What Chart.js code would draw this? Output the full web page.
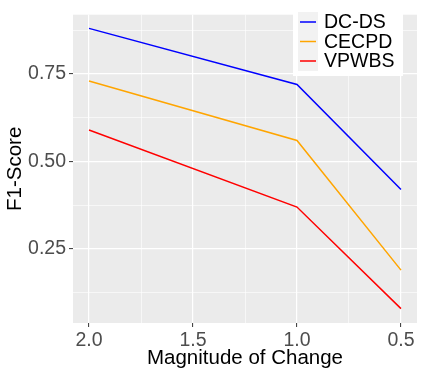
<!DOCTYPE html>
<html>
<head>
<meta charset="utf-8">
<script src="https://cdn.jsdelivr.net/npm/chart.js@4/dist/chart.umd.min.js"></script>
<style>
html, body { margin: 0; padding: 0; background: #fff; }
#wrap { width: 423px; height: 376px; }
</style>
</head>
<body>
<div id="wrap"><canvas id="chart"></canvas></div>
<script>
// values
const magnitudes = [2.0, 1.0, 0.5];
const dcds = [0.88, 0.72, 0.42];
const cecpd = [0.73, 0.56, 0.19];
const vpwbs = [0.59, 0.37, 0.08];
const seriesNames = ['DC-DS', 'CECPD', 'VPWBS'];
const seriesColors = ['#0000ff', '#ffa500', '#ff0000'];
const xMajor = [0.5, 1.0, 1.5, 2.0];
const xMinor = [0.75, 1.25, 1.75];
const yMajor = [0.25, 0.50, 0.75];
const yMinor = [0.125, 0.375, 0.625, 0.875];

const FONT = "'Liberation Sans', Arial, sans-serif";

function toPoints(values) {
    return magnitudes.map((m, i) => ({ x: m, y: values[i] }));
}

function isMajor(list, v) {
    return list.some(m => Math.abs(m - v) < 1e-6);
}

// grey ggplot panel behind the grid
const panelBackground = {
    id: 'panelBackground',
    beforeDraw(chart) {
        const { ctx, chartArea } = chart;
        ctx.save();
        ctx.fillStyle = '#ebebeb';
        ctx.fillRect(chartArea.left, chartArea.top, chartArea.right - chartArea.left, chartArea.bottom - chartArea.top);
        ctx.restore();
    }
};

// legend drawn inside the panel, top right
const insideLegend = {
    id: 'insideLegend',
    afterDraw(chart) {
        const ctx = chart.ctx;
        ctx.save();
        ctx.fillStyle = '#ffffff';
        ctx.fillRect(293, 7, 110, 69);
        chart.data.datasets.forEach((ds, i) => {
            const cy = 22 + i * 19.5;
            ctx.fillStyle = '#f2f2f2';
            ctx.fillRect(298, cy - 10, 20, 20);
            ctx.strokeStyle = ds.borderColor;
            ctx.lineWidth = 1.5;
            ctx.beginPath();
            ctx.moveTo(300, cy);
            ctx.lineTo(316, cy);
            ctx.stroke();
            ctx.fillStyle = '#000000';
            ctx.font = '19.5px ' + FONT;
            ctx.textBaseline = 'middle';
            ctx.textAlign = 'left';
            ctx.fillText(ds.label, 324, cy + 1);
        });
        ctx.restore();
    }
};

const ctx = document.getElementById('chart').getContext('2d');
new Chart(ctx, {
    type: 'line',
    data: {
        datasets: [dcds, cecpd, vpwbs].map((vals, i) => ({
            label: seriesNames[i],
            data: toPoints(vals),
            borderColor: seriesColors[i],
            backgroundColor: seriesColors[i],
            borderWidth: 1.5,
            pointRadius: 0,
            tension: 0
        }))
    },
    options: {
        responsive: true,
        maintainAspectRatio: false,
        animation: false,
        layout: { padding: { top: 6, right: 6, left: 0, bottom: 0 } },
        plugins: {
            legend: { display: false },
            tooltip: { enabled: false }
        },
        scales: {
            x: {
                type: 'linear',
                reverse: true,
                min: 0.423,
                max: 2.077,
                afterBuildTicks(scale) {
                    scale.ticks = xMajor.concat(xMinor).sort().map(v => ({ value: v }));
                },
                afterFit(scale) { scale.height = 53; },
                border: { display: false },
                grid: {
                    color: '#ffffff',
                    lineWidth: c => (c.tick && isMajor(xMajor, c.tick.value)) ? 1.2 : 0.6,
                    tickColor: c => (c.tick && isMajor(xMajor, c.tick.value)) ? '#333333' : 'rgba(0,0,0,0)',
                    tickWidth: 1,
                    tickLength: 4
                },
                ticks: {
                    autoSkip: false,
                    maxRotation: 0,
                    padding: 2,
                    color: '#4d4d4d',
                    font: { family: FONT, size: 19.5 },
                    callback: v => isMajor(xMajor, v) ? v.toFixed(1) : ''
                },
                title: {
                    display: true,
                    text: 'Magnitude of Change',
                    color: '#000000',
                    font: { family: FONT, size: 20.5 },
                    padding: { top: 0, bottom: 5 }
                }
            },
            y: {
                type: 'linear',
                min: 0.039,
                max: 0.919,
                afterBuildTicks(scale) {
                    scale.ticks = yMajor.concat(yMinor).sort().map(v => ({ value: v }));
                },
                afterFit(scale) { scale.width = 73; },
                border: { display: false },
                grid: {
                    color: '#ffffff',
                    lineWidth: c => (c.tick && isMajor(yMajor, c.tick.value)) ? 1.2 : 0.6,
                    tickColor: c => (c.tick && isMajor(yMajor, c.tick.value)) ? '#333333' : 'rgba(0,0,0,0)',
                    tickWidth: 1,
                    tickLength: 4
                },
                ticks: {
                    autoSkip: false,
                    padding: 3,
                    color: '#4d4d4d',
                    font: { family: FONT, size: 19.5 },
                    callback: v => isMajor(yMajor, v) ? v.toFixed(2) : ''
                },
                title: {
                    display: true,
                    text: 'F1-Score',
                    color: '#000000',
                    font: { family: FONT, size: 20.5 },
                    padding: { top: 3, bottom: 0 }
                }
            }
        }
    },
    plugins: [panelBackground, insideLegend]
});
</script>
</body>
</html>
